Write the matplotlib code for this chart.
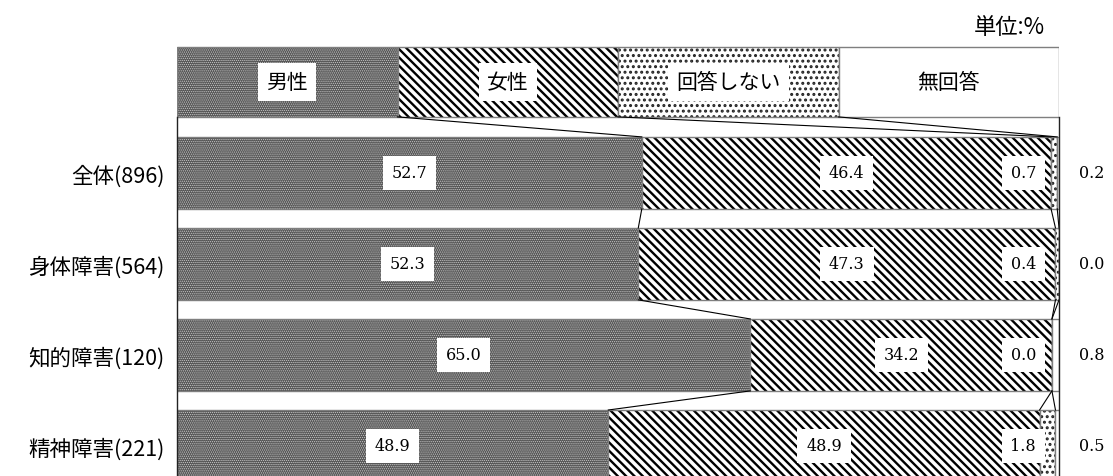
import matplotlib
matplotlib.use("Agg")
import matplotlib.pyplot as plt
import numpy as np

JP = ["Noto Sans CJK JP", "DejaVu Sans"]
NUM = "DejaVu Serif"

categories = ["全体(896)", "身体障害(564)", "知的障害(120)", "精神障害(221)"]
series = ["男性", "女性", "回答しない", "無回答"]
male = [52.7, 52.3, 65.0, 48.9]
female = [46.4, 47.3, 34.2, 48.9]
no_answer = [0.7, 0.4, 0.0, 1.8]
blank = [0.2, 0.0, 0.8, 0.5]

# fill, hatch, hatch colour, hatch width for each series
styles = [
    ("#555555", "........", "#c8c8c8", 0.6),
    ("white", "\\\\\\\\", "black", 1.7),
    ("white", "...", "#222222", 1.4),
    ("white", "", "black", 1.0),
]
EDGE = "#7f7f7f"
BAR_H = 0.79
KEY_H = 0.77


def hatched_barh(ax, y, widths, lefts, height, style):
    face, hatch, hcol, hlw = style
    with plt.rc_context({"hatch.linewidth": hlw}):
        bars = ax.barh(y, widths, left=lefts, height=height, color=face,
                       edgecolor=hcol, linewidth=0, hatch=hatch)
    for b in bars:
        if hasattr(b, "set_hatch_linewidth"):
            b.set_hatch_linewidth(hlw)
    ax.barh(y, widths, left=lefts, height=height, fill=False,
            edgecolor=EDGE, linewidth=1.0)


fig = plt.figure(figsize=(11.13, 4.77), dpi=100)
ax = fig.add_axes([177 / 1113, 0, 882 / 1113, 1])
ax.set_xlim(0, 100)
ax.set_ylim(3.33, -1.91)

values = np.array([male, female, no_answer, blank])
y = np.arange(len(categories))
cum = np.vstack([np.zeros(len(categories)), np.cumsum(values, axis=0)])

for i in range(len(series)):
    hatched_barh(ax, y, values[i], cum[i], BAR_H, styles[i])

# key row above the bars
key_w = 100 / len(series)
for i, name in enumerate(series):
    hatched_barh(ax, [-1], [key_w], [i * key_w], KEY_H, styles[i])
    ax.text(i * key_w + key_w / 2, -1, name, ha="center", va="center",
            fontsize=15, family=JP,
            bbox=dict(boxstyle="square,pad=0.4", fc="white", ec="none"))

# series lines between rows
for i in range(1, len(series)):
    ax.plot([i * key_w, cum[i][0]], [-1 + KEY_H / 2, -BAR_H / 2],
            color="black", lw=0.8)
    for r in range(len(categories) - 1):
        ax.plot([cum[i][r], cum[i][r + 1]],
                [r + BAR_H / 2, r + 1 - BAR_H / 2], color="black", lw=0.8)

# value labels
for r in range(len(categories)):
    for i in range(2):
        ax.text(cum[i][r] + values[i][r] / 2, r, f"{values[i][r]:.1f}",
                ha="center", va="center", fontsize=11.5, family=NUM,
                bbox=dict(boxstyle="square,pad=0.55", fc="white", ec="none"))
    ax.text(97.4, r, f"{no_answer[r]:.1f}", ha="right", va="center",
            fontsize=11.5, family=NUM,
            bbox=dict(boxstyle="square,pad=0.55", fc="white", ec="none"))
    ax.text(103.7, r, f"{blank[r]:.1f}", ha="center", va="center",
            fontsize=11.5, family=NUM, clip_on=False)

ax.set_yticks(y)
ax.set_yticklabels(categories, fontsize=15.5, family=JP)
ax.tick_params(axis="y", length=0, pad=9)
ax.set_xticks([])
for s in ("top", "bottom"):
    ax.spines[s].set_visible(False)
for s in ("left", "right"):
    ax.spines[s].set_bounds(-1 + KEY_H / 2, 3.33)
    ax.spines[s].set_color("#222222")
    ax.spines[s].set_linewidth(1.0)

fig.text(1045 / 1113, 1 - 27 / 477, "単位:%", ha="right", va="center",
         fontsize=16, family=JP)

fig.savefig("out.png", dpi=100)
